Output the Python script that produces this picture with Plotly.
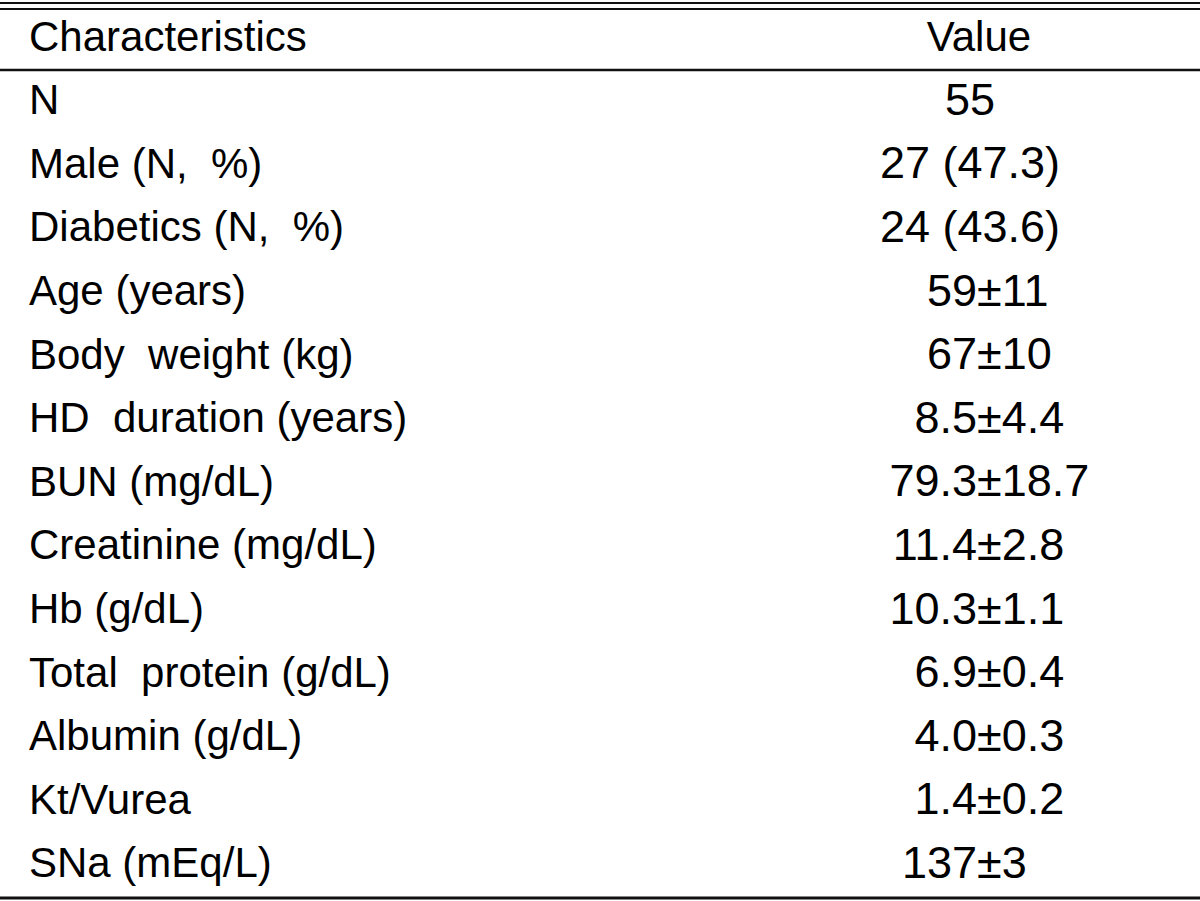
import plotly.graph_objects as go

header_left = "Characteristics"
header_right = "Value"
characteristics = [
    "N", "Male (N,  %)", "Diabetics (N,  %)", "Age (years)", "Body  weight (kg)",
    "HD  duration (years)", "BUN (mg/dL)", "Creatinine (mg/dL)", "Hb (g/dL)",
    "Total  protein (g/dL)", "Albumin (g/dL)", "Kt/Vurea", "SNa (mEq/L)",
]
values = [
    "55", "27 (47.3)", "24 (43.6)", "59\u00b111", "67\u00b110", "8.5\u00b14.4",
    "79.3\u00b118.7", "11.4\u00b12.8", "10.3\u00b11.1", "6.9\u00b10.4", "4.0\u00b10.3",
    "1.4\u00b10.2", "137\u00b13",
]

W, H = 1200, 901
FONT = "Liberation Sans, Arial, sans-serif"
FS = 42
FS_VAL = 45
ROW0, ROWH = 40.0, 63.6   # pixel centre of header row and row pitch
PM_X = 977                 # x of the plus-minus sign
CENTER_X = 970
LEFT_X = 29

rows = list(range(1, len(characteristics) + 1))

# split values at the plus-minus sign
pm_rows, pm_left, pm_right = [], [], []
plain_rows, plain_text = [], []
for r, v in zip(rows, values):
    if "\u00b1" in v:
        a, b = v.split("\u00b1")
        pm_rows.append(r); pm_left.append(a); pm_right.append("\u00b1" + b)
    else:
        plain_rows.append(r); plain_text.append(v)

font = dict(family=FONT, size=FS, color="black")
vfont = dict(family=FONT, size=FS_VAL, color="black")
fig = go.Figure()
fig.add_trace(go.Scatter(x=[LEFT_X] * (len(rows) + 1), y=[0] + rows,
                         text=[header_left] + characteristics, mode="text",
                         textposition="middle right", textfont=font, hoverinfo="skip"))
fig.add_trace(go.Scatter(x=[979], y=[0], text=[header_right], mode="text",
                         textposition="middle center", textfont=font, hoverinfo="skip"))
fig.add_trace(go.Scatter(x=[CENTER_X] * len(plain_rows), y=plain_rows, text=plain_text,
                         mode="text", textposition="middle center", textfont=vfont, hoverinfo="skip"))
fig.add_trace(go.Scatter(x=[PM_X] * len(pm_rows), y=pm_rows, text=pm_left,
                         mode="text", textposition="middle left", textfont=vfont, hoverinfo="skip"))
fig.add_trace(go.Scatter(x=[PM_X] * len(pm_rows), y=pm_rows, text=pm_right,
                         mode="text", textposition="middle right", textfont=vfont, hoverinfo="skip"))

ytop = (0 - ROW0) / ROWH
ybot = (H - ROW0) / ROWH

def py(p):
    return 1 - p / H

shapes = []
for p, w in [(3, 2), (9, 2), (70, 2.5), (898, 3)]:
    shapes.append(dict(type="line", xref="paper", yref="paper", x0=0, x1=1,
                       y0=py(p), y1=py(p), line=dict(color="#111", width=w)))

fig.update_layout(
    width=W, height=H, margin=dict(l=0, r=0, t=0, b=0),
    paper_bgcolor="white", plot_bgcolor="white", showlegend=False,
    xaxis=dict(range=[0, W], visible=False, fixedrange=True),
    yaxis=dict(range=[ybot, ytop], visible=False, fixedrange=True),
    shapes=shapes,
)
fig.write_html("out.html", config={"displayModeBar": False},
               post_script="document.body.style.margin='0';document.body.style.padding='0';"
                           "document.body.style.overflow='hidden';")
